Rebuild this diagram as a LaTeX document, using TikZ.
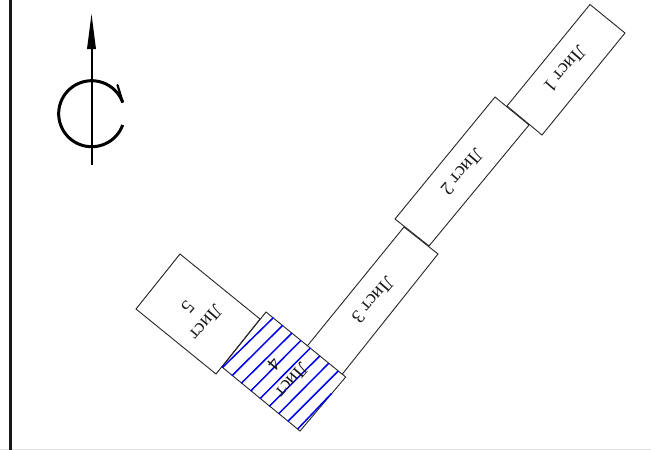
\documentclass[tikz,border=0pt]{standalone}
\usepackage{fontspec}
\setmainfont{Liberation Serif}
\tikzset{
  sheet/.style={draw=black!85,fill=white,line width=0.9pt,line join=miter},
  hatch/.style={draw=blue!95!black,line width=1.5pt},
  sheetlabel/.style={rotate=229,align=center,inner sep=0pt,font=\fontsize{19}{24}\selectfont,text=black!90},
  axisline/.style={draw=black,line width=2pt},
  turn/.style={draw=black,line width=3pt}
}
\begin{document}
\begin{tikzpicture}[x=1pt,y=-1pt]
\useasboundingbox (0,0) rectangle (651,450);
\fill[white] (0,0) rectangle (651,450);
% frame
\draw[black!12,line width=0.8pt] (0,449.5) -- (651,449.5);
\fill[black!90] (8.7,0) rectangle (11.7,450);
% compass
\coordinate (axisS) at (91.5,165);
\coordinate (axisN) at (91.5,14);
\draw[axisline] (axisS) -- (91.5,45);
\fill[black] (axisN) -- (96,49) -- (87,49) -- cycle;
\draw[turn] (122.7,125) arc[start angle=20,end angle=340,radius=33];
\draw[turn,line width=2.2pt,line cap=round] (122.7,102) -- (117.5,85);
% sheets
\draw[sheet] (590,4.5) -- (625,33) -- (542,135) -- (507,106) -- cycle;
\draw[sheet] (404,227) -- (438,254) -- (340,377) -- (304,350) -- cycle;
\draw[sheet] (495,97) -- (529,125) -- (429,246) -- (395,219) -- cycle;
\draw[sheet] (180,254) -- (260,319) -- (216,374) -- (136,309) -- cycle;
\draw[sheet] (266,312) -- (345.7,377) -- (300,431) -- (222,367) -- cycle;
% hatching of sheet 4
\foreach \xa/\ya/\xb/\yb in {
  273.3/317.7/222.3/367.7,
  282.7/325.3/232/375.7,
  292/333/241.3/383.3,
  301/340.3/250.7/391,
  310.3/348/260/398.7,
  319.7/356/269.3/406.3,
  328.7/363.3/278.7/413.7,
  338.3/371/288/421.3,
  331.7/393.3/297.7/429}
  \draw[hatch] (\xa,\ya) -- (\xb,\yb);
% labels
\node[sheetlabel] (s1) at (565,69) {Лист 1};
\node[sheetlabel] (s2) at (462,172) {Лист 2};
\node[sheetlabel] (s3) at (373,300) {Лист 3};
\node[sheetlabel] (s4) at (283,372.5) {Лист\\4};
\node[sheetlabel] (s5) at (197,315) {Лист\\5};
\end{tikzpicture}
\end{document}
